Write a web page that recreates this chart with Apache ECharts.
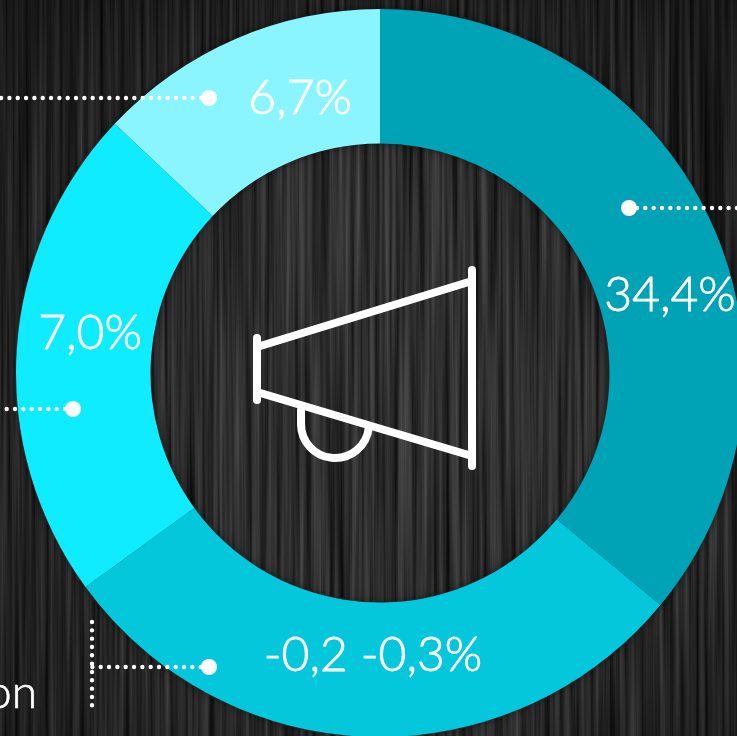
<!DOCTYPE html>
<html>
<head>
<meta charset="utf-8">
<style>
html,body{margin:0;padding:0;width:737px;height:736px;overflow:hidden;background:#1c1c1c}
#wood{position:absolute;left:0;top:0;width:737px;height:736px}
#glow{position:absolute;left:0;top:0;width:737px;height:736px;
background:radial-gradient(ellipse 540px 540px at 390px 430px,rgba(255,255,255,.05),rgba(255,255,255,.02) 50%,rgba(0,0,0,.38) 100%)}
#chart{position:absolute;left:0;top:0;width:737px;height:736px}
</style>
</head>
<body>
<svg id="wood" width="737" height="736" xmlns="http://www.w3.org/2000/svg">
  <filter id="grain" x="0" y="0" width="100%" height="100%" color-interpolation-filters="sRGB">
    <feTurbulence type="fractalNoise" baseFrequency="0.2 0.003" numOctaves="3" seed="7"/>
    <feColorMatrix type="matrix" values="0.36 0 0 0 -0.03  0.36 0 0 0 -0.03  0.36 0 0 0 -0.03  0 0 0 0 1"/>
  </filter>
  <rect width="737" height="736" filter="url(#grain)"/>
</svg>
<div id="glow"></div>
<div id="chart"></div>
<script src="https://cdn.jsdelivr.net/npm/echarts@6/dist/echarts.min.js"></script>
<script>
const sliceValues = [36.0, 29.0, 22.0, 13.0];
const sliceLabels = ['34,4%', '-0,2 -0,3%', '7,0%', '6,7%'];
const sliceColors = ['#00A3B5', '#04C7DB', '#0FEBFF', '#8AF5FF'];

const labelSpots = [[670, 296], [373, 656], [90, 334], [300, 99]];
const leaderLines = [
  [[637, 208], [737, 208]],
  [[209, 667], [92, 667]],
  [[92, 622], [92, 710]],
  [[65, 409], [0, 409]],
  [[201, 98], [0, 98]]
];
const leaderDots = [[629, 208], [209, 667], [73, 409], [209, 98]];

const white = '#ffffff';
const font = 'Lato, "Open Sans", sans-serif';

const graphics = [];
leaderLines.forEach(l => graphics.push({
  type: 'line', silent: true, z: 10,
  shape: {x1: l[0][0], y1: l[0][1], x2: l[1][0], y2: l[1][1]},
  style: {stroke: white, lineWidth: 4.4, lineCap: 'round', lineDash: [0, 8.33]}
}));
leaderDots.forEach(d => graphics.push({
  type: 'circle', silent: true, z: 11,
  shape: {cx: d[0], cy: d[1], r: 8},
  style: {fill: white}
}));
const stroke = {stroke: white, lineWidth: 8, lineCap: 'round', fill: 'none'};
graphics.push(
  {type: 'polyline', silent: true, z: 12, shape: {points: [[257, 347], [472, 281]]}, style: stroke},
  {type: 'polyline', silent: true, z: 12, shape: {points: [[257, 392], [472, 456]]}, style: stroke},
  {type: 'line', silent: true, z: 12, shape: {x1: 257, y1: 338, x2: 257, y2: 400}, style: stroke},
  {type: 'line', silent: true, z: 12, shape: {x1: 472, y1: 270, x2: 472, y2: 466}, style: stroke},
  {type: 'line', silent: true, z: 12, shape: {x1: 301, y1: 410, x2: 301, y2: 424}, style: stroke},
  {type: 'arc', silent: true, z: 12, shape: {cx: 335, cy: 424, r: 34, startAngle: 0.1, endAngle: Math.PI, clockwise: true}, style: stroke},
  {type: 'text', silent: true, z: 12, x: 37, y: 693,
   style: {text: 'on', fill: white, font: '300 46px ' + font, align: 'right', verticalAlign: 'middle',
           stroke: white, lineWidth: 0.7}}
);

const chart = echarts.init(document.getElementById('chart'), null, {renderer: 'canvas'});
chart.setOption({
  animation: false,
  backgroundColor: 'transparent',
  graphic: graphics,
  series: [
    {
      // soft shadow under the whole ring, so it does not fall across neighbouring slices
      type: 'pie', silent: true, z: 1,
      center: [380, 373], radius: [229.5, 364], startAngle: 90,
      label: {show: false}, labelLine: {show: false},
      itemStyle: {color: '#0b2a30', shadowBlur: 8, shadowColor: 'rgba(0,0,0,.5)'},
      data: [{value: 1, name: 'ring'}]
    },
    {
      type: 'pie',
      silent: true,
      z: 2,
      center: [380, 373],
      radius: [229.5, 364],
      startAngle: 90,
      clockwise: true,
      avoidLabelOverlap: false,
      labelLine: {show: false},
      label: {
        show: true, position: 'inside', color: white,
        fontFamily: font, fontWeight: 300, fontSize: 48,
        textBorderColor: white, textBorderWidth: 0.8,
        formatter: p => sliceLabels[p.dataIndex]
      },
      labelLayout: p => ({
        x: labelSpots[p.dataIndex][0], y: labelSpots[p.dataIndex][1],
        align: 'center', verticalAlign: 'middle'
      }),
      data: sliceValues.map((v, i) => ({
        value: v, name: sliceLabels[i], itemStyle: {color: sliceColors[i]}
      }))
    }
  ]
});
</script>
</body>
</html>
